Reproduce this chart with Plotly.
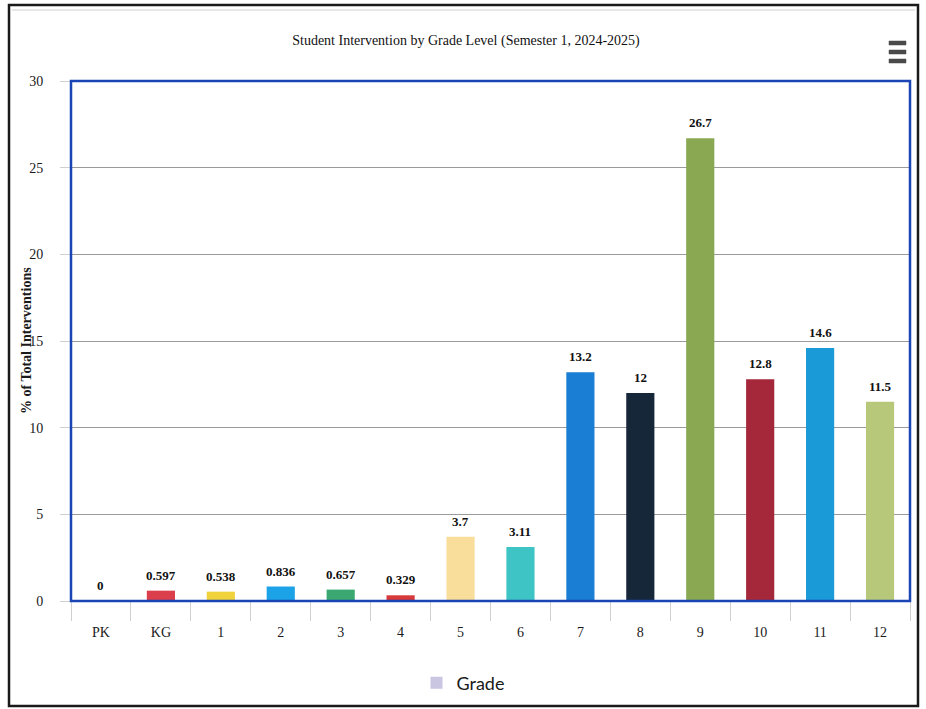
import plotly.graph_objects as go

grades = ["PK", "KG", "1", "2", "3", "4", "5", "6", "7", "8", "9", "10", "11", "12"]
percent = [0, 0.597, 0.538, 0.836, 0.657, 0.329, 3.7, 3.11, 13.2, 12, 26.7, 12.8, 14.6, 11.5]
colors = ["#cac6e2", "#da3f4b", "#f0d23c", "#1ca2e6", "#3aa870", "#d83a3a", "#f9dd9a",
          "#3ec4c4", "#1a7ed4", "#17273a", "#8aa852", "#a4283a", "#1a9ad6", "#b8c87a"]
y_ticks = [0, 5, 10, 15, 20, 25, 30]

W, H = 926, 709
L, R, T, B = 71, 910, 81, 601  # plot area in pixels

def px(x):
    return (x - L) / (R - L)

def py(y):
    return (B - y) / (B - T)

serif = "Liberation Serif, Times New Roman, serif"

fig = go.Figure()
fig.add_trace(go.Bar(
    x=grades, y=percent, name="Grade",
    marker=dict(color=colors, line=dict(width=0)),
    showlegend=True,
))

for i, v in enumerate(percent):
    fig.add_annotation(x=i, y=v, xref="x", yref="y", text=f"<b>{v:g}</b>", showarrow=False,
                       yanchor="bottom", yshift=6,
                       font=dict(family=serif, size=13, color="#111"))

fig.add_annotation(xref="paper", yref="paper", x=px(26), y=0.5, xanchor="center",
                   yanchor="middle", textangle=-90, showarrow=False,
                   text="<b>% of Total Interventions</b>",
                   font=dict(family=serif, size=14, color="#1a1a1a"))

shapes = [
    # outer frame
    dict(type="rect", xref="paper", yref="paper", x0=px(9), x1=px(918), y0=py(706), y1=py(5),
         line=dict(color="#1a1a1a", width=2.5), layer="above"),
    dict(type="line", xref="paper", yref="paper", x0=px(12), x1=px(915), y0=py(10), y1=py(10),
         line=dict(color="#d0d0d0", width=1)),
    # plot border
    dict(type="rect", xref="paper", yref="paper", x0=0, x1=1, y0=0, y1=1,
         line=dict(color="#1b45b5", width=2.5), layer="above"),
]
for yy in (43, 52, 61):
    shapes.append(dict(type="rect", xref="paper", yref="paper", x0=px(889), x1=px(906),
                       y0=py(yy + 2), y1=py(yy - 2), fillcolor="#4a4a4a",
                       line=dict(color="#4a4a4a", width=0.5)))

fig.update_layout(
    width=W, height=H,
    margin=dict(l=L, r=W - R, t=T, b=H - B, autoexpand=False),
    paper_bgcolor="white", plot_bgcolor="white",
    title=dict(text="Student Intervention by Grade Level (Semester 1, 2024-2025)",
               x=px(466), xref="paper", xanchor="center",
               y=1 - 40 / H, yref="container", yanchor="middle",
               font=dict(family=serif, size=14, color="#111")),
    bargap=0.53,
    showlegend=True,
    legend=dict(orientation="h", x=px(463), y=py(683), xanchor="center", yanchor="middle",
                font=dict(family="Lato, Open Sans, sans-serif", size=18, color="#1a1a1a"),
                itemwidth=30),
    shapes=shapes,
)

fig.update_xaxes(
    type="category", showgrid=False, showline=False, automargin=False,
    ticks="outside", tickson="boundaries", ticklen=19, tickcolor="#d0d0d0", tickwidth=1,
    ticklabelstandoff=21,
    tickfont=dict(family=serif, size=14, color="#1a1a1a"),
)
fig.update_yaxes(
    range=[0, 30], tickvals=y_ticks, showline=False, zeroline=False, automargin=False,
    showgrid=True, gridcolor="#9a9a9a", gridwidth=1,
    ticks="outside", ticklen=10, tickcolor="#d0d0d0",
    ticklabelstandoff=14,
    tickfont=dict(family=serif, size=14, color="#1a1a1a"),
    title=dict(text=""),
)

fig.write_html("out.html")
